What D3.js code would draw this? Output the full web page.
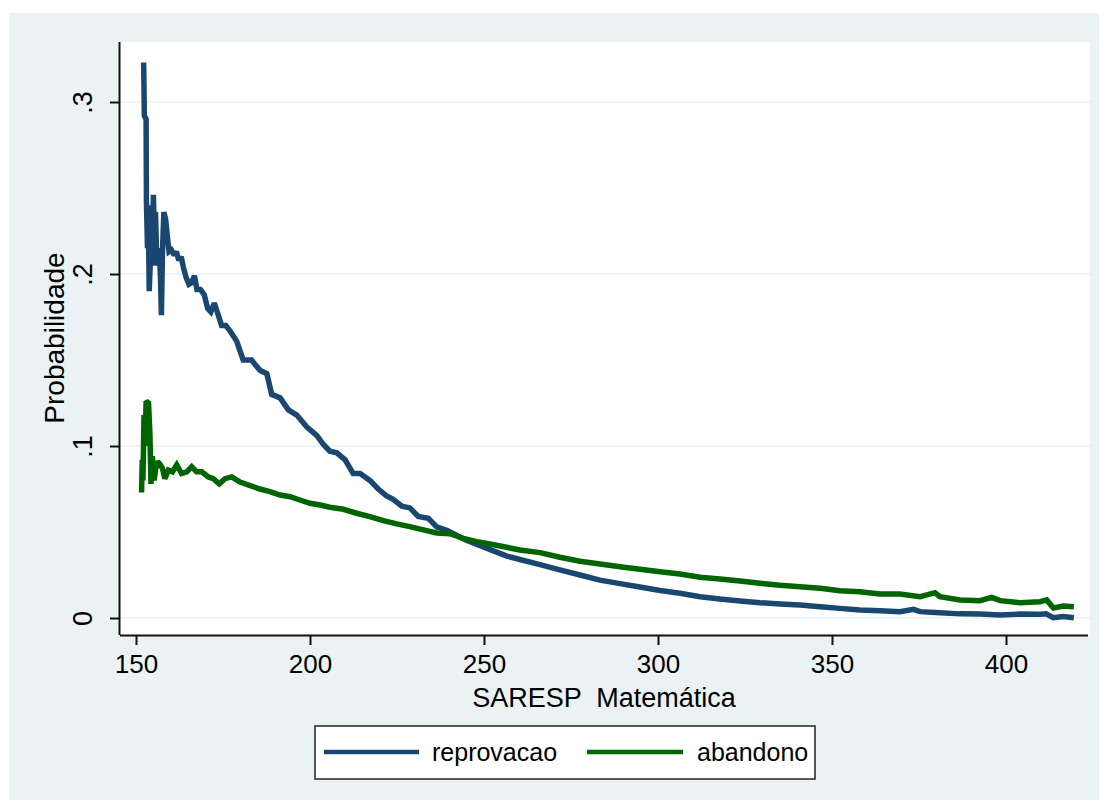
<!DOCTYPE html>
<html>
<head>
<meta charset="utf-8">
<script src="https://cdn.jsdelivr.net/npm/d3@7"></script>
<style>
  html, body { margin: 0; padding: 0; background: #ffffff; }
  svg { display: block; }
  text { font-family: "Liberation Sans", Arial, sans-serif; fill: #000; }
</style>
</head>
<body>
<svg id="chart" width="1108" height="810"></svg>
<script>
// SARESP Matemática score vs. estimated probability of each outcome
const scoreRep = [152.2, 152.4, 152.9, 153.0, 153.3, 153.5, 153.8, 154.2, 154.6, 155.0, 155.3, 155.6, 156.0, 156.6, 157.0, 157.3, 157.6, 158.0, 158.5, 159.0, 159.5, 160.2, 161.0, 161.6, 162.3, 163.0, 163.6, 164.4, 165.2, 166.0, 166.8, 167.5, 168.5, 169.6, 170.6, 171.5, 172.5, 173.5, 174.6, 175.8, 177.0, 178.9, 180.8, 183.2, 185.6, 187.6, 189.0, 191.4, 193.8, 196.2, 199.1, 202.0, 203.8, 205.7, 207.7, 210.1, 212.4, 214.4, 217.2, 219.6, 222.0, 223.9, 226.4, 228.7, 231.1, 234.0, 236.4, 239.3, 242.2, 245.1, 248.9, 252.7, 256.6, 260.3, 266.1, 271.8, 277.6, 283.3, 289.1, 294.8, 300.6, 306.3, 312.1, 317.8, 323.6, 329.3, 335.1, 340.8, 346.6, 352.3, 358.0, 363.8, 369.5, 373.4, 375.3, 381.0, 386.8, 392.5, 398.3, 404.0, 409.8, 411.5, 413.6, 416.5, 419.5];
const reprovacao = [0.323, 0.292, 0.290, 0.242, 0.215, 0.240, 0.190, 0.212, 0.205, 0.246, 0.220, 0.236, 0.205, 0.215, 0.200, 0.176, 0.212, 0.236, 0.232, 0.222, 0.213, 0.214, 0.211, 0.213, 0.208, 0.210, 0.204, 0.198, 0.194, 0.195, 0.199, 0.191, 0.191, 0.188, 0.180, 0.178, 0.183, 0.177, 0.170, 0.170, 0.167, 0.161, 0.150, 0.150, 0.144, 0.142, 0.130, 0.128, 0.121, 0.118, 0.111, 0.106, 0.101, 0.097, 0.096, 0.092, 0.084, 0.084, 0.080, 0.075, 0.071, 0.069, 0.065, 0.064, 0.059, 0.058, 0.053, 0.051, 0.048, 0.045, 0.042, 0.039, 0.036, 0.034, 0.031, 0.028, 0.025, 0.022, 0.020, 0.018, 0.016, 0.0144, 0.0124, 0.011, 0.0099, 0.0089, 0.0082, 0.0076, 0.0066, 0.0056, 0.0047, 0.0042, 0.0037, 0.0050, 0.0037, 0.0031, 0.0024, 0.0023, 0.0017, 0.0023, 0.0022, 0.0024, 0.0002, 0.0008, 0.0001];

const scoreAba = [151.6, 151.8, 152.0, 152.3, 152.6, 152.9, 153.6, 154.0, 154.3, 154.7, 155.2, 155.6, 156.2, 157.0, 157.6, 158.3, 159.3, 160.5, 161.7, 163.1, 164.6, 166.0, 167.4, 168.9, 170.8, 172.2, 173.9, 175.6, 177.5, 179.9, 182.8, 185.6, 188.5, 191.4, 194.3, 197.1, 200.0, 202.9, 205.7, 209.6, 213.4, 217.2, 221.1, 224.9, 228.7, 232.6, 236.4, 240.2, 244.1, 247.9, 251.7, 256.5, 260.3, 266.1, 271.8, 277.6, 283.3, 289.1, 294.8, 300.6, 306.3, 312.1, 317.8, 323.6, 329.3, 335.1, 340.8, 346.6, 352.3, 358.0, 363.8, 369.5, 375.3, 379.6, 381.0, 386.8, 392.5, 395.9, 398.3, 404.0, 409.8, 411.7, 413.6, 416.5, 419.5];
const abandono = [0.073, 0.092, 0.080, 0.118, 0.100, 0.126, 0.125, 0.107, 0.078, 0.094, 0.080, 0.086, 0.091, 0.089, 0.087, 0.081, 0.086, 0.085, 0.089, 0.084, 0.085, 0.088, 0.085, 0.085, 0.082, 0.081, 0.078, 0.081, 0.082, 0.079, 0.077, 0.075, 0.0735, 0.0715, 0.0705, 0.0686, 0.0667, 0.0657, 0.0644, 0.0632, 0.0609, 0.0589, 0.0566, 0.0547, 0.0531, 0.0512, 0.0494, 0.0490, 0.0463, 0.0444, 0.0430, 0.0411, 0.0395, 0.0380, 0.0353, 0.0330, 0.0314, 0.0298, 0.0283, 0.0269, 0.0256, 0.0237, 0.0227, 0.0215, 0.0202, 0.0190, 0.0182, 0.0173, 0.0159, 0.0153, 0.0140, 0.0140, 0.0124, 0.0147, 0.0124, 0.0105, 0.0101, 0.0120, 0.0101, 0.0089, 0.0095, 0.0105, 0.0058, 0.0070, 0.0066];

const xTicks = [150, 200, 250, 300, 350, 400];
const yTicks = [0, 0.1, 0.2, 0.3];
const yTickLabels = ["0", ".1", ".2", ".3"];
const seriesNames = ["reprovacao", "abandono"];
const seriesColors = ["#1a476f", "#006400"];
const xTitle = "SARESP  Matemática";
const yTitle = "Probabilidade";

const svg = d3.select("#chart");

// graph region background
svg.append("rect").attr("x", 9).attr("y", 13).attr("width", 1090).attr("height", 787)
  .attr("fill", "#eaf2f3");

// plot region
const plot = { left: 120, right: 1090, top: 42, bottom: 635 };
svg.append("rect").attr("x", plot.left).attr("y", plot.top)
  .attr("width", plot.right - plot.left).attr("height", plot.bottom - plot.top)
  .attr("fill", "#ffffff");

const x = d3.scaleLinear().domain([150, 400]).range([136, 1006]);
const y = d3.scaleLinear().domain([0, 0.3]).range([618, 102]);

// horizontal grid
svg.append("g").selectAll("line").data(yTicks).join("line")
  .attr("x1", plot.left).attr("x2", plot.right)
  .attr("y1", d => y(d)).attr("y2", d => y(d))
  .attr("stroke", "#eaf2f3").attr("stroke-width", 1.5);

// series
const series = [
  { name: seriesNames[0], xs: scoreRep, ys: reprovacao, color: seriesColors[0] },
  { name: seriesNames[1], xs: scoreAba, ys: abandono, color: seriesColors[1] }
];
const line = d3.line().x(d => x(d[0])).y(d => y(d[1]));
series.forEach(s => {
  svg.append("path")
    .datum(d3.zip(s.xs, s.ys))
    .attr("d", line)
    .attr("fill", "none")
    .attr("stroke", s.color)
    .attr("stroke-width", 5.5)
    .attr("stroke-linejoin", "miter")
    .attr("stroke-miterlimit", 2);
});

// x axis
const xAxis = d3.axisBottom(x).tickValues(xTicks).tickSize(10).tickPadding(10).tickFormat(d3.format("d"));
const gx = svg.append("g").attr("transform", `translate(0,${plot.bottom})`).call(xAxis);
gx.select(".domain").attr("d", `M${plot.left},0.5H${plot.right - 2}`).attr("stroke", "#111").attr("stroke-width", 2);
gx.selectAll(".tick line").attr("stroke", "#111").attr("stroke-width", 2);
gx.selectAll(".tick text").attr("font-size", 26).attr("font-family", "Liberation Sans, Arial, sans-serif").attr("fill", "#000");

// y axis
const yAxis = d3.axisLeft(y).tickValues(yTicks).tickSize(10).tickFormat((d, i) => yTickLabels[i]);
const gy = svg.append("g").attr("transform", `translate(${plot.left},0)`).call(yAxis);
gy.select(".domain").attr("d", `M-0.5,${plot.top}V${plot.bottom}`).attr("stroke", "#111").attr("stroke-width", 2);
gy.selectAll(".tick line").attr("stroke", "#111").attr("stroke-width", 2);
gy.selectAll(".tick text")
  .attr("x", null).attr("dy", null)
  .attr("text-anchor", "middle")
  .attr("transform", "translate(-28,0) rotate(-90)")
  .attr("font-size", 27).attr("font-family", "Liberation Sans, Arial, sans-serif").attr("fill", "#000");

// axis titles
svg.append("text").attr("x", (x(150) + x(400)) / 2 + 33).attr("y", 707)
  .attr("text-anchor", "middle").attr("font-size", 27).style("white-space", "pre").text(xTitle);
svg.append("text").attr("transform", `translate(64,${338}) rotate(-90)`)
  .attr("text-anchor", "middle").attr("font-size", 28).text(yTitle);

// legend
const lg = svg.append("g");
lg.append("rect").attr("x", 315).attr("y", 726).attr("width", 500).attr("height", 53)
  .attr("fill", "#ffffff").attr("stroke", "#222").attr("stroke-width", 1.5);
const legendItems = [
  { x1: 324, x2: 419, tx: 432 },
  { x1: 587, x2: 683, tx: 697 }
];
legendItems.forEach((it, i) => {
  lg.append("line").attr("x1", it.x1).attr("x2", it.x2).attr("y1", 752).attr("y2", 752)
    .attr("stroke", seriesColors[i]).attr("stroke-width", 4.5);
  lg.append("text").attr("x", it.tx).attr("y", 761).attr("font-size", 25).text(seriesNames[i]);
});
</script>
</body>
</html>
